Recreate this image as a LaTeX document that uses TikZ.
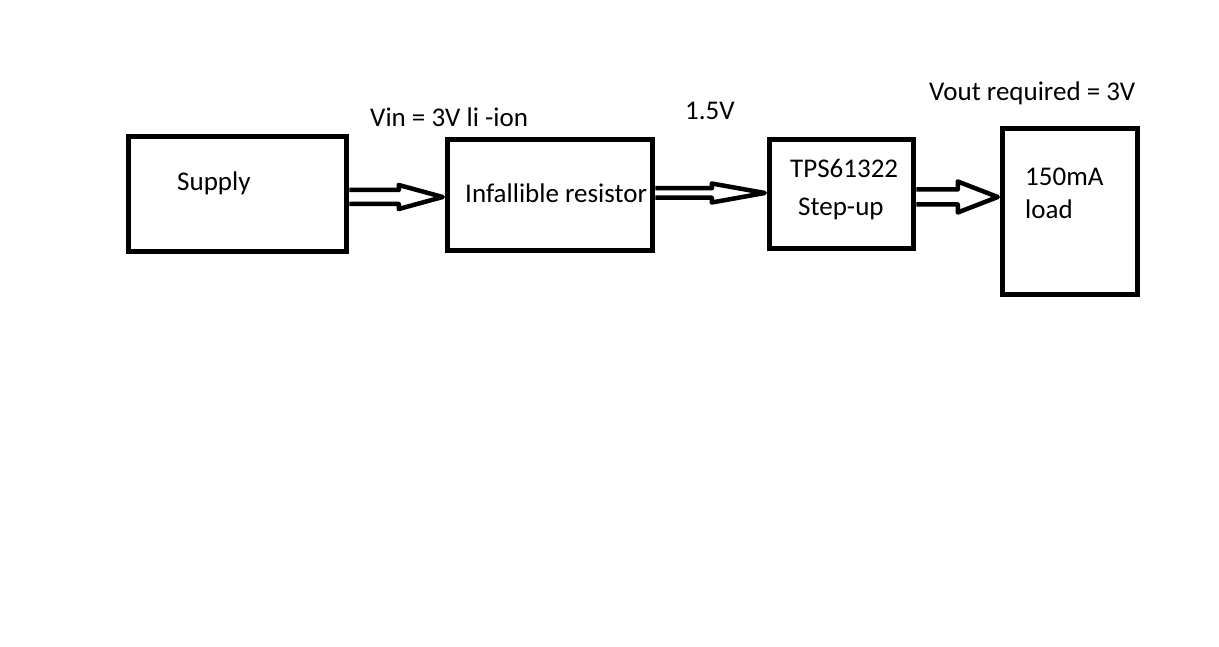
\documentclass[tikz,border=0pt]{standalone}
\usepackage{fontspec}
\setmainfont{Carlito}
\usetikzlibrary{positioning}

\tikzset{
  blk/.style={draw,line width=5.5pt,inner sep=0pt},
  txt/.style={anchor=base west,inner sep=0pt,font=\fontsize{27}{32}\selectfont},
  harrow/.style={draw,line width=4.5pt,line join=round}
}

\begin{document}
\begin{tikzpicture}[x=1pt,y=1pt]
\useasboundingbox (0,0) rectangle (1219,646);

\node[blk,minimum width=218,minimum height=115] (sup) at (237.5,452) {};
\node[blk,minimum width=205,minimum height=111] (res) at (550,451) {};
\node[blk,minimum width=144,minimum height=109] (tps) at (841.5,452) {};
\node[blk,minimum width=135,minimum height=166] (load) at (1070,434.5) {};

% texts inside the blocks
\node[txt] (supTxt) at (177,455) {Supply};
\node[txt] (resTxt) at (465,443) {Infallible resistor};
\node[txt] (tpsTxt) at (790,468) {TPS61322};
\node[txt] (stepTxt) at (798,430) {Step-up};
\node[txt] (loadTxt) at (1025,460) {150mA};
\node[txt] (loadTxtB) at (1025,427) {load};

% voltages above the links
\node[txt] (vinTxt) at (370,519) {Vin = 3V li -ion};
\node[txt] (midTxt) at (685,526) {1.5V};
\node[txt] (voutTxt) at (929,545) {Vout required = 3V};

% hollow block arrows: shaft half width, head half width, head length
% Supply -> resistor
\coordinate (a1s) at ([yshift=-3]sup.east);
\coordinate (a1e) at ([xshift=-2]res.west |- a1s);
\draw[harrow] ([yshift=7]a1s) -- ([xshift=-44,yshift=7]a1e)
  -- ([xshift=-44,yshift=12]a1e) -- (a1e) -- ([xshift=-44,yshift=-12]a1e)
  -- ([xshift=-44,yshift=-7]a1e) -- ([yshift=-7]a1s);

% resistor -> TPS61322
\coordinate (a2s) at ([yshift=2]res.east);
\coordinate (a2e) at ([xshift=-2]tps.west |- a2s);
\draw[harrow] ([yshift=4.75]a2s) -- ([xshift=-53,yshift=4.75]a2e)
  -- ([xshift=-53,yshift=9.5]a2e) -- (a2e) -- ([xshift=-53,yshift=-9.5]a2e)
  -- ([xshift=-53,yshift=-4.75]a2e) -- ([yshift=-4.75]a2s);

% TPS61322 -> load
\coordinate (a3s) at ([yshift=-3]tps.east);
\coordinate (a3e) at ([xshift=-2]load.west |- a3s);
\draw[harrow] ([yshift=7.5]a3s) -- ([xshift=-40,yshift=7.5]a3e)
  -- ([xshift=-40,yshift=15.5]a3e) -- (a3e) -- ([xshift=-40,yshift=-15.5]a3e)
  -- ([xshift=-40,yshift=-7.5]a3e) -- ([yshift=-7.5]a3s);
\end{tikzpicture}
\end{document}
